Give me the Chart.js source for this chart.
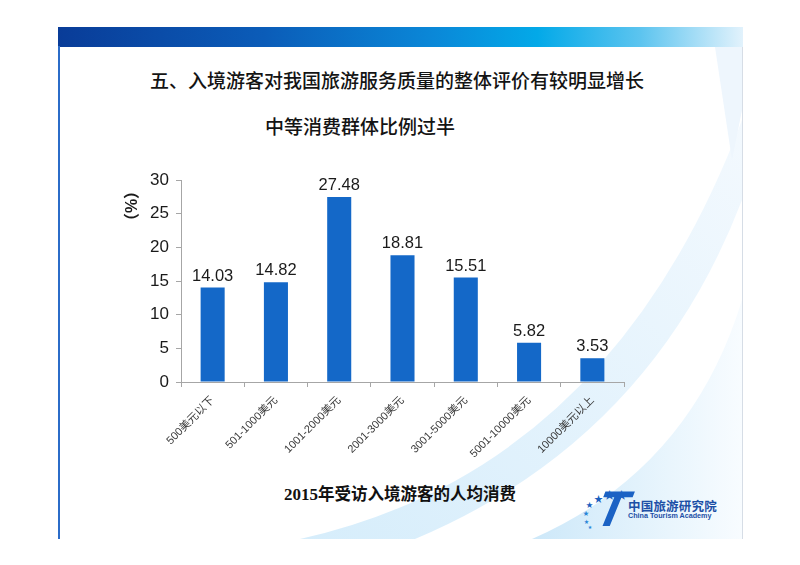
<!DOCTYPE html>
<html>
<head>
<meta charset="utf-8">
<script src="https://cdn.jsdelivr.net/npm/chart.js@4.4.1/dist/chart.umd.min.js"></script>
<style>
  html, body { margin: 0; padding: 0; background: #fff; }
  body { width: 800px; height: 565px; position: relative; overflow: hidden; font-family: "Noto Sans CJK SC", "Liberation Sans", sans-serif; }
  .slide { position: absolute; left: 58px; top: 27px; width: 684px; height: 512px; border-right: 1px solid #d6dde6; }
  .slide-left { position: absolute; left: 58px; top: 46px; width: 2px; height: 493px; background: #2b6cc8; }
  .header { position: absolute; left: 58px; top: 27px; width: 685px; height: 20px;
    background: linear-gradient(90deg, #093c98 0%, #0b5cb8 30%, #0a88d8 55%, #03a9e8 70%, #5cc4ef 85%, #e2f2fc 100%); }
  .bg { position: absolute; left: 0; top: 0; }
  .title { position: absolute; left: 150px; top: 66px; font-size: 19px; font-weight: 500; color: #141414; white-space: nowrap; letter-spacing: 0; }
  .subtitle { position: absolute; left: 265px; top: 112px; font-size: 19px; font-weight: 500; color: #141414; white-space: nowrap; }
  .xtitle { position: absolute; left: 284px; top: 481px; font-size: 16.5px; font-weight: 700; color: #111; white-space: nowrap; }
  .xtitle b { font-family: "Liberation Serif", serif; font-size: 17px; }
  .chart-box { position: absolute; left: 100px; top: 160px; width: 540px; height: 302px; }
  .logo-t { position: absolute; left: 597px; top: 484px; font: italic 900 50px "Liberation Sans", sans-serif; color: #1b62c4; line-height: 50px; transform: skewX(-12deg); }
  .star { position: absolute; color: #1b5fbf; line-height: 1; }
  .logo-cn { position: absolute; left: 628px; top: 496px; font-size: 12.5px; font-weight: 700; color: #1c4fa6; white-space: nowrap; letter-spacing: 0.2px; }
  .logo-en { position: absolute; left: 628px; top: 511px; font: 700 7.2px "Liberation Sans", sans-serif; color: #1c4fa6; white-space: nowrap; }
</style>
</head>
<body>
<svg class="bg" width="800" height="565">
  <defs>
    <linearGradient id="bandA" x1="0" y1="1" x2="1" y2="0">
      <stop offset="0" stop-color="#d6edfb"/>
      <stop offset="1" stop-color="#f3f9fe"/>
    </linearGradient>
    <linearGradient id="bandB" x1="0" y1="0" x2="1" y2="0">
      <stop offset="0" stop-color="#cde8f9"/>
      <stop offset="0.5" stop-color="#e2f2fc"/>
      <stop offset="1" stop-color="#f8fcff"/>
    </linearGradient>
  </defs>
  <path d="M 300 539 Q 610 470 742 120 L 742 200 Q 650 440 415 539 Z" fill="url(#bandA)"/>
  <path d="M 532 539 Q 690 470 742 300 L 742 539 Z" fill="url(#bandB)"/>
  <path d="M 715 47 L 742 47 L 742 110 L 732 160 Z" fill="#eef6fd"/>
</svg>
<div class="slide"></div>
<div class="header"></div>
<div class="slide-left"></div>
<div class="title">五、入境游客对我国旅游服务质量的整体评价有较明显增长</div>
<div class="subtitle">中等消费群体比例过半</div>
<div class="chart-box"><canvas id="graficoConsumo"></canvas></div>
<div class="xtitle"><b>2015</b>年受访入境游客的人均消费</div>
<span class="star" style="left:586px;top:501px;font-size:7px;">★</span>
<span class="star" style="left:594px;top:494px;font-size:9px;">★</span>
<span class="star" style="left:604px;top:489px;font-size:11px;">★</span>
<span class="star" style="left:616px;top:489px;font-size:11px;">★</span>
<span class="star" style="left:583px;top:510px;font-size:6px;color:#2a86d8;">★</span>
<span class="star" style="left:584px;top:518px;font-size:5px;color:#2a86d8;">★</span>
<span class="star" style="left:588px;top:525px;font-size:4px;color:#2a86d8;">★</span>
<div class="logo-t">T</div>
<div class="logo-cn">中国旅游研究院</div>
<div class="logo-en">China Tourism Academy</div>
<script>
// datos del gráfico
const categories = ["500美元以下", "501-1000美元", "1001-2000美元", "2001-3000美元", "3001-5000美元", "5001-10000美元", "10000美元以上"];
const shares = [14.03, 14.82, 27.48, 18.81, 15.51, 5.82, 3.53];
const yTicks = [0, 5, 10, 15, 20, 25, 30];
const yUnit = "（%）";

// etiquetas de valor sobre las barras + unidad del eje y
const barValueLabels = {
  id: "barValueLabels",
  afterDatasetsDraw(chart) {
    const ctx = chart.ctx;
    const meta = chart.getDatasetMeta(0);
    ctx.save();
    ctx.font = '16.5px "Liberation Sans", Arial, sans-serif';
    ctx.fillStyle = "#1a1a1a";
    ctx.textAlign = "center";
    ctx.textBaseline = "alphabetic";
    meta.data.forEach((bar, i) => {
      ctx.fillText(shares[i].toFixed(2), bar.x, bar.y - 7);
    });
    ctx.translate(33, 46);
    ctx.rotate(-Math.PI / 2);
    ctx.font = '700 16px "Liberation Sans", "Noto Sans CJK SC", sans-serif';
    ctx.textBaseline = "middle";
    ctx.fillText(yUnit, 0, 0);
    ctx.restore();
  }
};

new Chart(document.getElementById("graficoConsumo"), {
  type: "bar",
  data: {
    labels: categories,
    datasets: [{
      data: shares,
      backgroundColor: "#1468c8",
      borderWidth: 0,
      barPercentage: 0.38,
      categoryPercentage: 1
    }]
  },
  options: {
    responsive: true,
    maintainAspectRatio: false,
    animation: false,
    layout: { padding: { top: 20, right: 16, left: 0, bottom: 0 } },
    plugins: {
      legend: { display: false },
      tooltip: { enabled: false }
    },
    scales: {
      x: {
        afterFit: scale => { scale.height = 80; },
        border: { color: "#a6a6a6", width: 1 },
        grid: { drawOnChartArea: false, tickLength: 5, color: "#a6a6a6" },
        ticks: {
          minRotation: 45,
          maxRotation: 45,
          padding: 7,
          color: "#3a3a3a",
          font: { family: '"Liberation Sans", "Noto Sans CJK SC", sans-serif', size: 11 }
        }
      },
      y: {
        min: 0,
        max: 30,
        afterFit: scale => { scale.width = 81; },
        afterBuildTicks: scale => { scale.ticks = yTicks.map(v => ({ value: v })); },
        border: { color: "#a6a6a6", width: 1 },
        grid: { drawOnChartArea: false, tickLength: 5, color: "#a6a6a6" },
        ticks: {
          padding: 7,
          color: "#1a1a1a",
          font: { family: '"Liberation Sans", Arial, sans-serif', size: 17 }
        }
      }
    }
  },
  plugins: [barValueLabels]
});
</script>
</body>
</html>
